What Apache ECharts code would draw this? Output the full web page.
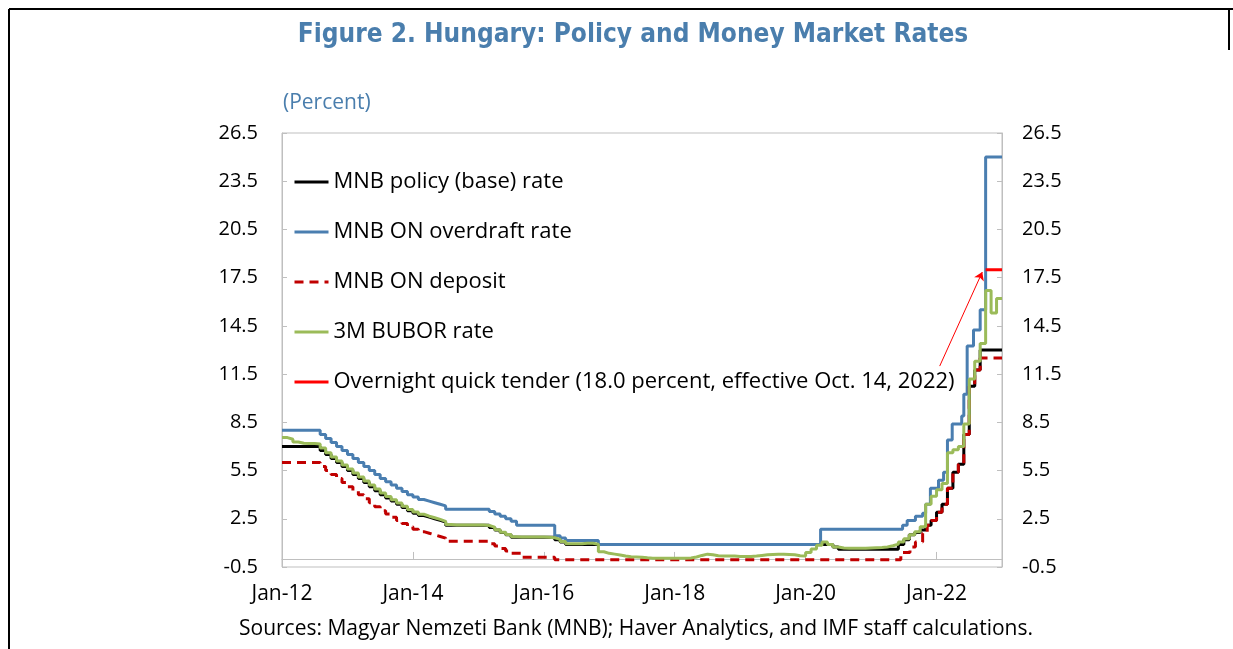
<!DOCTYPE html>
<html>
<head>
<meta charset="utf-8">
<script src="https://cdn.jsdelivr.net/npm/echarts@6/dist/echarts.min.js"></script>
<style>
  html, body { margin: 0; padding: 0; background: #fff; }
  #chart { width: 1233px; height: 649px; }
</style>
</head>
<body>
<div id="chart"></div>
<script>
// change points: the rate holds from the date until the next date
const policyDates = ['2012-01','2012-08','2012-09','2012-10','2012-11','2012-12',
  '2013-01','2013-02','2013-03','2013-04','2013-05','2013-06','2013-07','2013-08','2013-09','2013-10','2013-11','2013-12',
  '2014-01','2014-02','2014-03','2014-04','2014-05','2014-06','2014-07',
  '2015-03','2015-04','2015-05','2015-06','2015-07',
  '2016-03','2016-04','2016-05','2020-06','2020-07',
  '2021-06','2021-07','2021-08','2021-09','2021-10','2021-11','2021-12',
  '2022-01','2022-02','2022-03','2022-04','2022-05','2022-06','2022-07','2022-08','2022-09','2023-01']
const policyRates = [7.00,6.75,6.50,6.25,6.00,5.75,
  5.50,5.25,5.00,4.75,4.50,4.25,4.00,3.80,3.60,3.40,3.20,3.00,
  2.85,2.70,2.60,2.50,2.40,2.30,2.10,
  1.95,1.80,1.65,1.50,1.35,
  1.20,1.05,0.90,0.75,0.60,
  0.90,1.20,1.50,1.65,1.80,2.10,2.40,
  2.90,3.40,4.40,5.40,5.90,7.75,10.75,11.75,13.00,13.00]

const overdraftDates = ['2012-01','2012-08','2012-09','2012-10','2012-11','2012-12',
  '2013-01','2013-02','2013-03','2013-04','2013-05','2013-06','2013-07','2013-08','2013-09','2013-10','2013-11','2013-12',
  '2014-01','2014-02','2014-03','2014-04','2014-05','2014-06','2014-07',
  '2015-03','2015-04','2015-05','2015-06','2015-07','2015-08',
  '2016-03','2016-04','2016-05','2016-11','2020-03-24',
  '2021-06-25','2021-07-20','2021-09-05','2021-10-15','2021-11-01','2021-11-28',
  '2022-01-12','2022-02-10','2022-03-01','2022-03-28','2022-05-20','2022-06-01','2022-06-20','2022-07-25','2022-09-01','2022-10-01','2023-01']
const overdraftRates = [8.00,7.75,7.50,7.25,7.00,6.75,
  6.50,6.25,6.00,5.75,5.50,5.25,5.00,4.80,4.60,4.40,4.20,4.00,
  3.85,3.70,3.60,3.50,3.40,3.30,3.10,
  2.95,2.80,2.65,2.50,2.35,2.10,
  1.45,1.30,1.15,0.90,1.85,
  2.10,2.40,2.65,2.85,3.40,4.40,
  4.90,5.40,7.40,8.40,8.90,10.25,13.25,14.25,15.50,25.00,25.00]

const depositDates = ['2012-01','2012-08','2012-09','2012-10','2012-11','2012-12',
  '2013-01','2013-02','2013-03','2013-04','2013-05','2013-06','2013-07','2013-08','2013-09','2013-10','2013-11','2013-12',
  '2014-01','2014-02','2014-03','2014-04','2014-05','2014-06','2014-07',
  '2015-03','2015-04','2015-05','2015-06','2015-07','2015-09','2016-03',
  '2021-06-15','2021-08-05','2021-09-05','2021-10-15','2021-11-10','2021-12',
  '2022-01','2022-02','2022-03','2022-04','2022-05','2022-06','2022-07','2022-08','2022-09','2023-01']
const depositRates = [6.00,5.75,5.50,5.25,5.00,4.75,
  4.50,4.25,4.00,3.75,3.50,3.25,3.00,2.80,2.60,2.40,2.20,2.00,
  1.85,1.70,1.60,1.50,1.40,1.30,1.10,
  0.95,0.80,0.65,0.50,0.35,0.10,-0.05,
  0.40,0.75,1.05,1.60,2.10,2.40,
  2.90,3.40,4.40,5.40,5.90,7.75,10.75,11.75,12.50,12.50]

// 3M BUBOR, monthly from Jan-12, one row per year
const buborStart = '2012-01'
const buborRates = [
  7.55,7.45,7.28,7.20,7.18,7.18,7.15,6.90,6.60,6.35,6.10,5.85,
  5.60,5.35,5.10,4.85,4.60,4.35,4.10,3.88,3.68,3.48,3.28,3.08,
  2.92,2.78,2.66,2.56,2.46,2.34,2.14,2.12,2.12,2.12,2.12,2.12,
  2.12,2.08,1.98,1.82,1.66,1.52,1.38,1.36,1.36,1.36,1.36,1.36,
  1.35,1.32,1.22,1.08,0.95,0.95,0.95,0.98,0.98,0.92,0.45,0.35,
  0.30,0.25,0.18,0.14,0.12,0.10,0.07,0.05,0.04,0.04,0.04,0.04,
  0.04,0.04,0.06,0.12,0.22,0.30,0.26,0.20,0.18,0.18,0.18,0.16,
  0.15,0.15,0.18,0.22,0.26,0.28,0.30,0.30,0.28,0.26,0.20,0.18,
  0.40,0.62,0.85,1.05,0.90,0.75,0.68,0.66,0.66,0.66,0.66,0.68,
  0.70,0.72,0.75,0.82,0.92,1.05,1.25,1.50,1.70,2.00,3.40,3.90,
  4.30,4.70,6.60,6.80,7.00,8.40,11.20,12.30,13.40,16.70,15.30,16.20,
  16.20]

const tenderDates = ['2022-10-01', '2023-01']
const tenderRates = [18.0, 18.0]

const arrowFrom = ['2022-01-19', 12.0]
const arrowTo = ['2022-09-13', 17.85]

const seriesNames = ['MNB policy (base) rate', 'MNB ON overdraft rate', 'MNB ON deposit',
  '3M BUBOR rate', 'Overnight quick tender (18.0 percent, effective Oct. 14, 2022)']
const yTicks = ['-0.5','2.5','5.5','8.5','11.5','14.5','17.5','20.5','23.5','26.5']
const xTickLabels = ['Jan-12','Jan-14','Jan-16','Jan-18','Jan-20','Jan-22']

// months since Jan-2012
function toMonth(s) {
  const p = s.split('-').map(Number)
  const day = p[2] || 1
  return (p[0] - 2012) * 12 + (p[1] - 1) + (day - 1) / 31
}
function pairs(dates, vals) {
  return dates.map((d, i) => [toMonth(d), vals[i]])
}
const buborData = buborRates.map((v, i) => [toMonth(buborStart) + i, v])

const font = 'Open Sans'
const chart = echarts.init(document.getElementById('chart'), null, {renderer: 'canvas'})

const yAxisBase = {
  type: 'value',
  min: Number(yTicks[0]),
  max: Number(yTicks[yTicks.length - 1]),
  interval: 3,
  axisLine: {show: true, lineStyle: {color: '#bfbfbf'}},
  axisTick: {show: true, inside: true, length: 5, lineStyle: {color: '#bfbfbf'}},
  splitLine: {show: false},
}

const option = {
  animation: false,
  backgroundColor: '#fff',
  title: [
    {
      text: 'Figure 2. Hungary: Policy and Money Market Rates',
      left: 628, top: 17, textAlign: 'center',
      textStyle: {fontFamily: "'DejaVu Sans Condensed', Roboto, sans-serif", fontWeight: 'bold', fontSize: 26, color: '#4a7ead'}
    },
    {
      text: '(Percent)', left: 278, top: 88,
      textStyle: {fontFamily: font, fontWeight: 'normal', fontSize: 21, color: '#4a7ead'}
    },
    {
      text: 'Sources: Magyar Nemzeti Bank (MNB); Haver Analytics, and IMF staff calculations.',
      left: 631, top: 614, textAlign: 'center',
      textStyle: {fontFamily: font, fontWeight: 'normal', fontSize: 21, color: '#000'}
    }
  ],
  graphic: [
    {type: 'line', shape: {x1: 9, y1: 9, x2: 1233, y2: 9}, style: {stroke: '#000', lineWidth: 2}},
    {type: 'line', shape: {x1: 9, y1: 9, x2: 9, y2: 649}, style: {stroke: '#000', lineWidth: 2}},
    {type: 'line', shape: {x1: 1229, y1: 9, x2: 1229, y2: 50}, style: {stroke: '#000', lineWidth: 2}}
  ],
  legend: {
    orient: 'vertical',
    left: 288, top: 165,
    itemWidth: 34, itemHeight: 14, itemGap: 26,
    data: seriesNames,
    itemStyle: {opacity: 0},
    lineStyle: {width: 3},
    textStyle: {fontFamily: font, fontSize: 22, color: '#000', lineHeight: 24}
  },
  grid: {
    left: 282, right: 231, top: 133, bottom: 82,
    show: true, borderColor: '#bfbfbf', borderWidth: 1
  },
  xAxis: {
    type: 'value',
    min: 0, max: 132, interval: 24,
    axisLine: {onZero: true, lineStyle: {color: '#bfbfbf'}},
    axisTick: {inside: true, length: 7, lineStyle: {color: '#bfbfbf'}},
    axisLabel: {
      margin: 17, color: '#000', fontFamily: font, fontSize: 21,
      formatter: v => xTickLabels[v / 24] || ''
    },
    splitLine: {show: false}
  },
  yAxis: [
    Object.assign({}, yAxisBase, {
      position: 'left',
      axisLabel: {margin: 24, color: '#000', fontFamily: font, fontSize: 20, formatter: v => v.toFixed(1)}
    }),
    Object.assign({}, yAxisBase, {
      position: 'right',
      axisLabel: {margin: 20, color: '#000', fontFamily: font, fontSize: 20, formatter: v => v.toFixed(1)}
    })
  ],
  series: [
    {
      name: seriesNames[0], type: 'line', step: 'end', symbol: 'none',
      data: pairs(policyDates, policyRates),
      lineStyle: {color: '#000', width: 3}, itemStyle: {color: '#000'}
    },
    {
      name: seriesNames[1], type: 'line', step: 'end', symbol: 'none',
      data: pairs(overdraftDates, overdraftRates),
      lineStyle: {color: '#4a7eb0', width: 3}, itemStyle: {color: '#4a7eb0'}
    },
    {
      name: seriesNames[2], type: 'line', step: 'end', symbol: 'none',
      data: pairs(depositDates, depositRates),
      lineStyle: {color: '#c00000', width: 3, type: [9, 6]}, itemStyle: {color: '#c00000'}
    },
    {
      name: seriesNames[3], type: 'line', step: 'end', symbol: 'none',
      data: buborData,
      lineStyle: {color: '#9bbb59', width: 3}, itemStyle: {color: '#9bbb59'}
    },
    {
      name: seriesNames[4], type: 'line', step: 'end', symbol: 'none',
      data: pairs(tenderDates, tenderRates),
      lineStyle: {color: '#ff0000', width: 3}, itemStyle: {color: '#ff0000'},
      markLine: {
        silent: true,
        symbol: ['none', 'arrow'], symbolSize: 8,
        label: {show: false},
        lineStyle: {color: '#ff0000', width: 1, type: 'solid'},
        data: [[
          {coord: [toMonth(arrowFrom[0]), arrowFrom[1]]},
          {coord: [toMonth(arrowTo[0]), arrowTo[1]]}
        ]]
      }
    }
  ]
}
chart.setOption(option)
</script>
</body>
</html>
